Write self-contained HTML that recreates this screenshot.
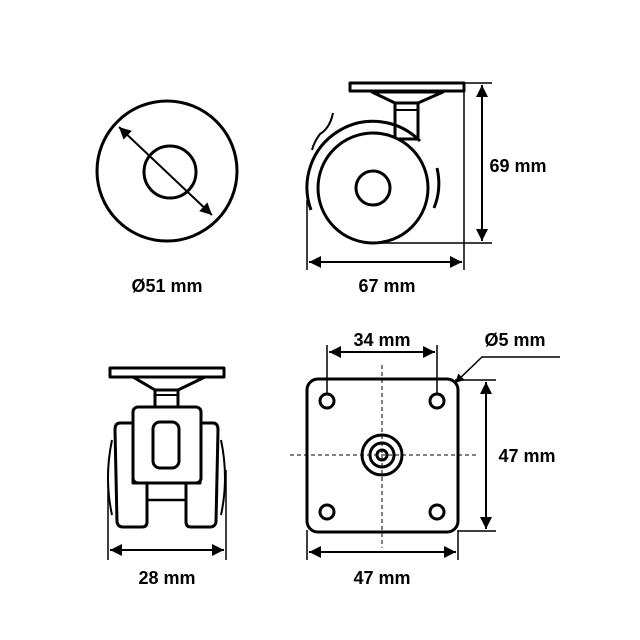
<!DOCTYPE html>
<html><head><meta charset="utf-8"><style>html,body{margin:0;padding:0;background:#fff}svg{display:block}</style></head>
<body>
<svg width="640" height="640" viewBox="0 0 640 640" xmlns="http://www.w3.org/2000/svg">
<defs>
<marker id="a" viewBox="0 0 10 10" refX="10" refY="5" markerWidth="6" markerHeight="6" orient="auto-start-reverse"><path d="M0,0 L10,5 L0,10 z" fill="#000"/></marker>
</defs>
<g fill="none" stroke="#000" stroke-width="3" stroke-linejoin="round">
<circle cx="167" cy="171" r="70"/>
<circle cx="170" cy="172" r="26"/>
</g>
<line x1="119" y1="127" x2="212" y2="215" stroke="#000" stroke-width="2" marker-start="url(#a)" marker-end="url(#a)"/>

<g fill="none" stroke="#000" stroke-width="3" stroke-linejoin="round">
<rect x="350" y="83" width="114" height="8" fill="#fff"/>
<path d="M372,92 L443,92 L418,103 L395,103 Z"/>
<rect x="395" y="103" width="23" height="36"/>
<line x1="395" y1="110" x2="418" y2="110" stroke-width="2"/>
<circle cx="373" cy="188" r="55" fill="#fff"/>
<circle cx="373" cy="188" r="17"/>
<path d="M420,141 A66,66 0 0 0 311,210"/>
<path d="M437,168 A66,66 0 0 1 434,208"/>
<path d="M333,113 Q330,128 320,134 Q314,142 312,150" stroke-width="2"/>
</g>
<g stroke="#000" stroke-width="1.5">
<line x1="464" y1="83" x2="492" y2="83"/>
<line x1="380" y1="243" x2="492" y2="243"/>
<line x1="307" y1="200" x2="307" y2="270"/>
<line x1="464" y1="91" x2="464" y2="270"/>
</g>
<line x1="482" y1="85" x2="482" y2="241" stroke="#000" stroke-width="2" marker-start="url(#a)" marker-end="url(#a)"/>
<line x1="309" y1="262" x2="462" y2="262" stroke="#000" stroke-width="2" marker-start="url(#a)" marker-end="url(#a)"/>

<g fill="none" stroke="#000" stroke-width="3" stroke-linejoin="round">
<path d="M112,440 Q104,478 112,515" stroke-width="2"/>
<path d="M221,440 Q229,478 221,515" stroke-width="2"/>
<path d="M120,423 L133,423 L133,483 L147,483 L147,522 Q147,527 142,527 L123,527 Q118,527 117,522 L115,430 Q115,423 120,423 Z" fill="#fff"/>
<path d="M213,423 L200,423 L200,483 L186,483 L186,522 Q186,527 191,527 L210,527 Q215,527 216,522 L218,430 Q218,423 213,423 Z" fill="#fff"/>
<line x1="147" y1="500" x2="186" y2="500" stroke-width="2.5"/>
<rect x="110" y="368" width="114" height="9"/>
<path d="M133,377 L205,377 L178,390 L155,390 Z"/>
<rect x="155" y="390" width="23" height="17"/>
<line x1="155" y1="395" x2="178" y2="395" stroke-width="2"/>
<rect x="133" y="407" width="68" height="76" rx="5" fill="#fff"/>
<rect x="153" y="422" width="26" height="46" rx="7"/>
</g>
<g stroke="#000" stroke-width="1.5">
<line x1="108" y1="470" x2="108" y2="560"/>
<line x1="226" y1="470" x2="226" y2="560"/>
</g>
<line x1="110" y1="550" x2="224" y2="550" stroke="#000" stroke-width="2" marker-start="url(#a)" marker-end="url(#a)"/>

<g stroke="#000" stroke-width="1" stroke-dasharray="4,3">
<line x1="382" y1="365" x2="382" y2="548"/>
<line x1="290" y1="455" x2="476" y2="455"/>
</g>
<g fill="none" stroke="#000" stroke-width="3">
<rect x="307" y="379" width="151" height="153" rx="11"/>
<circle cx="327" cy="401" r="7"/>
<circle cx="437" cy="401" r="7"/>
<circle cx="327" cy="512" r="7"/>
<circle cx="437" cy="512" r="7"/>
<circle cx="382" cy="455" r="20"/>
<circle cx="382" cy="455" r="12"/>
<circle cx="382" cy="455" r="5"/>
</g>
<g stroke="#000" stroke-width="1.5" fill="none">
<line x1="327" y1="345" x2="327" y2="395"/>
<line x1="437" y1="345" x2="437" y2="395"/>
<line x1="455" y1="380" x2="496" y2="380"/>
<line x1="458" y1="531" x2="496" y2="531"/>
<line x1="307" y1="530" x2="307" y2="560"/>
<line x1="458" y1="530" x2="458" y2="560"/>
<polyline points="560,357 482,357 455,383" marker-end="url(#a)"/>
</g>
<line x1="329" y1="352" x2="435" y2="352" stroke="#000" stroke-width="2" marker-start="url(#a)" marker-end="url(#a)"/>
<line x1="486" y1="382" x2="486" y2="529" stroke="#000" stroke-width="2" marker-start="url(#a)" marker-end="url(#a)"/>
<line x1="309" y1="552" x2="456" y2="552" stroke="#000" stroke-width="2" marker-start="url(#a)" marker-end="url(#a)"/>

<g font-family="Liberation Sans, sans-serif" font-weight="bold" font-size="18" fill="#000" text-anchor="middle">
<text x="167" y="292">Ø51 mm</text>
<text x="387" y="292">67 mm</text>
<text x="518" y="172">69 mm</text>
<text x="382" y="346">34 mm</text>
<text x="515" y="346">Ø5 mm</text>
<text x="527" y="462">47 mm</text>
<text x="167" y="584">28 mm</text>
<text x="382" y="584">47 mm</text>
</g>
</svg>
</body></html>
